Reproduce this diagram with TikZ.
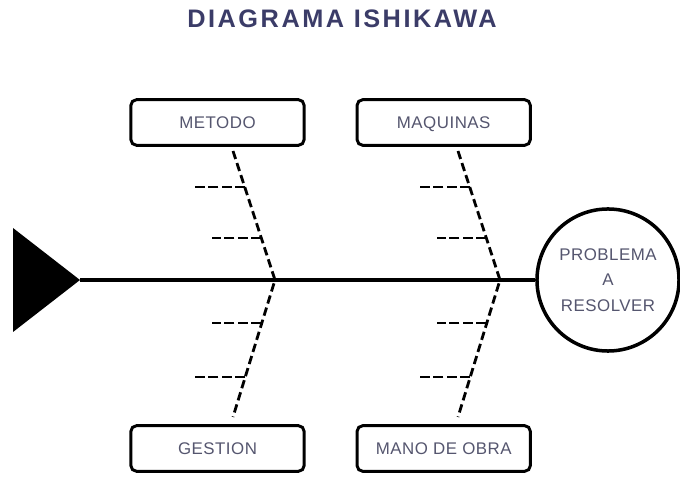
\documentclass[tikz,border=0pt]{standalone}
\usepackage{fontspec}
\setmainfont{Liberation Sans}
\usetikzlibrary{positioning}

\definecolor{titleink}{HTML}{3B3C68}
\definecolor{labelink}{HTML}{55566F}

\begin{document}
\begin{tikzpicture}[
    x=0.025cm, y=-0.025cm,
    cause/.style={rectangle, draw, line width=2.1pt, rounded corners=4pt, fill=white,
        minimum width=4.33cm, minimum height=1.14cm, text height=8.6pt, text depth=0pt,
        font=\fontsize{12}{14}\selectfont\addfontfeature{LetterSpace=3}, text=labelink},
    head/.style={circle, draw, line width=2.5pt, fill=white, minimum size=3.55cm,
        align=center, font=\fontsize{12}{18}\selectfont\addfontfeature{LetterSpace=3},
        text=labelink},
    spine/.style={line width=2.2pt},
    bone/.style={line width=2pt, dash pattern=on 6pt off 3pt},
    rib/.style={line width=2pt, dash pattern=on 7pt off 2.5pt}
]
    \useasboundingbox (0,0) rectangle (680,478);

    \node[font=\fontsize{18}{20}\selectfont\bfseries\addfontfeature{LetterSpace=10}, text=titleink]
        (titulo) at (342,19) {DIAGRAMA ISHIKAWA};

    % cajas de causas
    \node[cause] (metodo) at (217.5,122.5) {METODO};
    \node[cause] (maquinas) [right=1.25cm of metodo] {MAQUINAS};
    \node[cause] (gestion) at (217.5,448.5) {GESTION};
    \node[cause] (obra) [right=1.25cm of gestion] {MANO DE OBRA};

    % cabeza y cola
    \node[head] (problema) at (608,280) {PROBLEMA\\A\\RESOLVER};
    \coordinate (cola) at (80,280);
    \fill (13,228) -- (cola) -- (13,332) -- cycle;
    \draw[spine] (cola) -- (problema);

    % espinas
    \coordinate (j1) at (275,280);
    \coordinate (j2) at (500,280);
    \coordinate (m0) at (233,151);
    \coordinate (q0) at (458,151);
    \coordinate (g0) at (233,417);
    \coordinate (o0) at (458,417);
    \draw[bone] (m0) -- (j1) -- (g0);
    \draw[bone] (q0) -- (j2) -- (o0);

    % subcausas
    \coordinate (m1) at (245,187);
    \coordinate (m2) at (261,238);
    \coordinate (g1) at (261,323);
    \coordinate (g2) at (245,377);
    \coordinate (q1) at (470,187);
    \coordinate (q2) at (486,238);
    \coordinate (o1) at (486,323);
    \coordinate (o2) at (470,377);
    \draw[rib] (m1) -- ++(-50,0);
    \draw[rib] (m2) -- ++(-49,0);
    \draw[rib] (g1) -- ++(-49,0);
    \draw[rib] (g2) -- ++(-50,0);
    \draw[rib] (q1) -- ++(-50,0);
    \draw[rib] (q2) -- ++(-49,0);
    \draw[rib] (o1) -- ++(-49,0);
    \draw[rib] (o2) -- ++(-50,0);
\end{tikzpicture}
\end{document}
